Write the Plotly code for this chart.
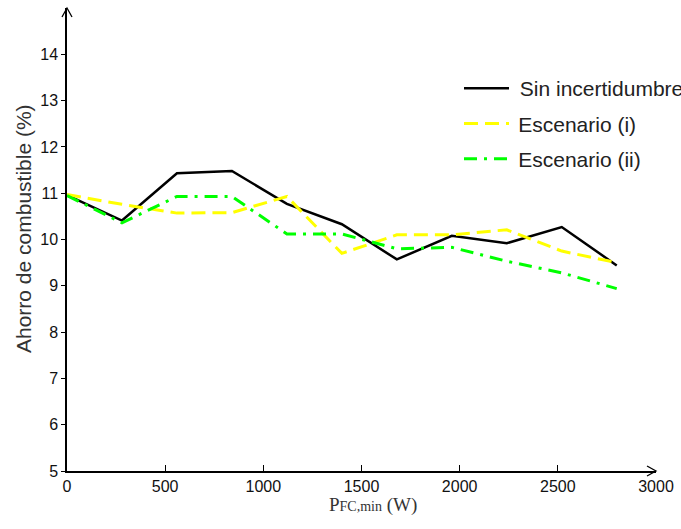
import plotly.graph_objects as go

# ---- data ----
p_fc_min = [0, 280, 560, 840, 1120, 1400, 1680, 1960, 2240, 2520, 2800]
sin_incert = [10.96, 10.41, 11.43, 11.48, 10.77, 10.33, 9.57, 10.08, 9.92, 10.27, 9.44]
escenario_i = [10.97, 10.76, 10.57, 10.58, 10.93, 9.70, 10.10, 10.10, 10.21, 9.75, 9.50]
escenario_ii = [10.95, 10.36, 10.93, 10.93, 10.12, 10.12, 9.80, 9.83, 9.53, 9.28, 8.94]
series_names = ["Sin incertidumbre", "Escenario (i)", "Escenario (ii)"]

x_ticks = [0, 500, 1000, 1500, 2000, 2500, 3000]
y_ticks = [5, 6, 7, 8, 9, 10, 11, 12, 13, 14]

W, H = 681, 529
ML, MR, MT, MB = 67, 25, 8, 58
PW, PH = W - ML - MR, H - MT - MB

NB = "\u00a0"
TH = "\u2009"

fig = go.Figure()
fig.add_trace(go.Scatter(x=p_fc_min, y=sin_incert, mode="lines", name=NB + series_names[0],
                         line=dict(color="black", width=2.5), legendgroup="a"))
fig.add_trace(go.Scatter(x=p_fc_min, y=escenario_i, mode="lines", name=TH + series_names[1],
                         line=dict(color="#ffff00", width=3, dash="14px,7px"), legendgroup="b"))
fig.add_trace(go.Scatter(x=p_fc_min, y=escenario_ii, mode="lines", name=TH + series_names[2],
                         line=dict(color="#00ff00", width=3, dash="13px,7px,3px,7px"), legendgroup="c"))

def px2fx(px):
    return px / PW

def px2fy(py):
    return py / PH

# arrowheads at the axis ends (paper coords)
shapes = [
    dict(type="path", xref="paper", yref="paper",
         path=f"M {1 - px2fx(9)},{px2fy(5)} L 1,0 L {1 - px2fx(9)},{-px2fy(5)}",
         line=dict(color="black", width=1.3)),
    dict(type="path", xref="paper", yref="paper",
         path=f"M {-px2fx(5)},{1 - px2fy(9)} L 0,1 L {px2fx(5)},{1 - px2fy(9)}",
         line=dict(color="black", width=1.3)),
]

annotations = [
    dict(text="Ahorro de combustible (%)", xref="paper", yref="paper",
         x=px2fx(23 - ML), y=1 - px2fy(229 - MT), textangle=-90, showarrow=False,
         xanchor="center", yanchor="middle",
         font=dict(family="Liberation Sans, Arial", size=21, color="#333")),
    dict(text="P<span style='font-size:14px'>FC,min</span> (W)", xref="paper", yref="paper",
         x=px2fx(373 - ML), y=-px2fy(513 - MT - PH), showarrow=False,
         xanchor="center", yanchor="bottom", yshift=-5,
         font=dict(family="Liberation Serif, Times New Roman", size=19, color="#333")),
]

fig.update_layout(
    width=W, height=H,
    margin=dict(l=ML, r=MR, t=MT, b=MB, autoexpand=False),
    paper_bgcolor="white", plot_bgcolor="white",
    font=dict(family="Liberation Sans, Arial", size=16, color="#222"),
    showlegend=True,
    legend=dict(x=px2fx(459 - ML), y=1 - px2fy(68 - MT), xanchor="left", yanchor="top",
                font=dict(size=21, color="#222"), bgcolor="rgba(0,0,0,0)",
                tracegroupgap=5, itemwidth=45),
    shapes=shapes,
    annotations=annotations,
    xaxis=dict(range=[0, 3000], tickvals=x_ticks, showgrid=False, zeroline=False,
               showline=True, linecolor="black", linewidth=1.5, automargin=False,
               ticks="inside", ticklen=6, tickcolor="black", tickwidth=1,
               tickfont=dict(size=16, color="#111")),
    yaxis=dict(range=[5, 15], tickvals=y_ticks, showgrid=False, zeroline=False,
               showline=True, linecolor="black", linewidth=1.5, automargin=False,
               ticks="outside", ticklen=4, tickcolor="black", tickwidth=1,
               tickfont=dict(size=16, color="#111")),
)

fig.write_html("out.html", config={"displayModeBar": False},
               post_script="document.body.style.margin='0';document.body.style.overflow='hidden';")
